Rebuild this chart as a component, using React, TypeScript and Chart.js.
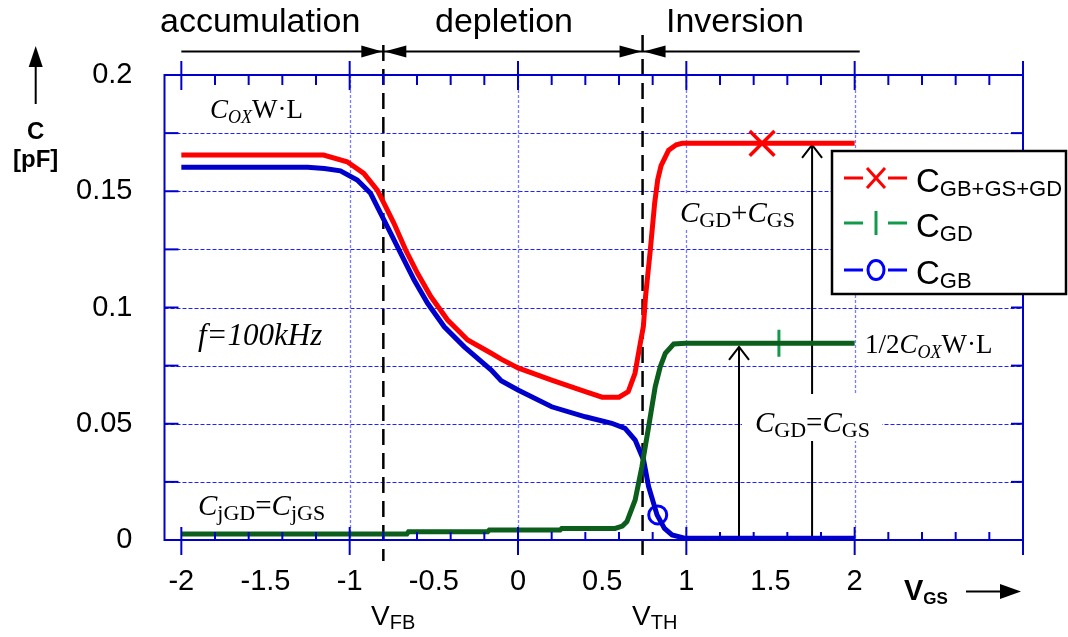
import React, { useEffect, useRef } from 'react';
import { Chart, registerables } from 'chart.js';

Chart.register(...registerables);

// ---------- axes ----------
const X_MIN = -2.1;
const X_MAX = 3.0;
const Y_MIN = 0;
const Y_MAX = 0.2;
const xTickValues = [-2, -1.5, -1, -0.5, 0, 0.5, 1, 1.5, 2];
const xMajorTicks = [-2, -1, 0, 1, 2, 3];
const xMinorTicks = [-1.8, -1.6, -1.4, -1.2, -0.8, -0.6, -0.4, -0.2, 0.2, 0.4, 0.6, 0.8, 1.2, 1.4, 1.6, 1.8, 2.2, 2.4, 2.6, 2.8];
const xGridValues = [-1, 0, 1, 2];
const yGridValues = [0.025, 0.05, 0.075, 0.1, 0.125, 0.15, 0.175];
const yTickValues = [0, 0.025, 0.05, 0.075, 0.1, 0.125, 0.15, 0.175, 0.2];
const yLabelStep = 0.05;

// ---------- series: C_GB+GS+GD ----------
const totalV = [-2, -1.155, -1.015, -0.916, -0.836, -0.796, -0.737, -0.667, -0.597, -0.518, -0.418, -0.299, -0.159, -0.1, 0, 0.2, 0.4, 0.5, 0.6, 0.655, 0.695, 0.72, 0.745, 0.758, 0.786, 0.812, 0.83, 0.85, 0.895, 0.94, 0.975, 2.0];
const totalC = [0.1656, 0.1656, 0.1627, 0.1577, 0.1505, 0.1448, 0.1362, 0.1247, 0.1147, 0.1047, 0.0946, 0.086, 0.0803, 0.0778, 0.074, 0.0688, 0.0638, 0.0614, 0.0614, 0.0638, 0.0717, 0.082, 0.092, 0.105, 0.1247, 0.145, 0.155, 0.161, 0.1677, 0.17, 0.1706, 0.1706];

// ---------- series: C_GD ----------
const gdV = [-2, -0.66, -0.65, -0.18, -0.17, 0.25, 0.26, 0.577, 0.62, 0.647, 0.696, 0.736, 0.776, 0.815, 0.845, 0.875, 0.925, 0.995, 2.0];
const gdC = [0.0026, 0.0026, 0.0036, 0.0036, 0.0043, 0.0043, 0.005, 0.005, 0.006, 0.0079, 0.0172, 0.0315, 0.0487, 0.0659, 0.0745, 0.0803, 0.0843, 0.0846, 0.0846];

// ---------- series: C_GB ----------
const gbV = [-2, -1.25, -1.15, -1.055, -0.955, -0.876, -0.816, -0.756, -0.687, -0.617, -0.537, -0.438, -0.319, -0.159, -0.1, 0, 0.2, 0.4, 0.557, 0.636, 0.696, 0.746, 0.776, 0.826, 0.87, 0.915, 0.995, 2.0];
const gbC = [0.1603, 0.1603, 0.1598, 0.1588, 0.1548, 0.1491, 0.1405, 0.1319, 0.1219, 0.1118, 0.1018, 0.0917, 0.0831, 0.0731, 0.0685, 0.0645, 0.0573, 0.053, 0.0502, 0.048, 0.043, 0.0344, 0.0229, 0.0108, 0.005, 0.0022, 0.0007, 0.0007];

// ---------- markers ----------
const totalMarkerV = [1.45];
const totalMarkerC = [0.1706];
const gdMarkerV = [1.55];
const gdMarkerC = [0.0846];
const gbMarkerV = [0.83];
const gbMarkerC = [0.0108];

// ---------- reference voltages / arrows ----------
const V_FB = -0.8;
const V_TH = 0.74;
const regionBounds = [-2, V_FB, V_TH, 2.03];
const arrowV = [1.313, 1.747];
const arrowTopC = [0.0831, 0.1699];

const RED = '#ff0000';
const GREEN = '#0b5e1c';
const GREEN_LIGHT = '#129a4a';
const BLUE = '#0000cc';
const BLUE_LIGHT = '#0000ff';
const AXIS = '#0000cc';

const sans = '"Liberation Sans", Arial, sans-serif';
const serif = '"Liberation Serif", "Times New Roman", serif';

const pts = (xs: number[], ys: number[]) => xs.map((x, i) => ({ x, y: ys[i] }));

type Part = [string, string, number];
function drawRich(ctx: CanvasRenderingContext2D, x: number, y: number, parts: Part[]) {
  let cx = x;
  for (const [t, f, dy] of parts) {
    ctx.font = f;
    ctx.fillText(t, cx, y + dy);
    cx += ctx.measureText(t).width;
  }
  return cx - x;
}

function line(ctx: CanvasRenderingContext2D, x1: number, y1: number, x2: number, y2: number) {
  ctx.beginPath();
  ctx.moveTo(x1, y1);
  ctx.lineTo(x2, y2);
  ctx.stroke();
}

function tri(ctx: CanvasRenderingContext2D, tipX: number, tipY: number, baseX: number, baseY: number, half: number) {
  const dx = tipX - baseX, dy = tipY - baseY;
  const len = Math.hypot(dx, dy);
  const nx = -dy / len, ny = dx / len;
  ctx.beginPath();
  ctx.moveTo(tipX, tipY);
  ctx.lineTo(baseX + nx * half, baseY + ny * half);
  ctx.lineTo(baseX - nx * half, baseY - ny * half);
  ctx.closePath();
  ctx.fill();
}

const it = (s: number) => `italic ${s}px ${serif}`;
const rg = (s: number) => `${s}px ${serif}`;

const decor = {
  id: 'decor',
  beforeDatasetsDraw(chart: any) {
    const { ctx, chartArea: a, scales } = chart;
    const X = (v: number) => scales.x.getPixelForValue(v);
    const Y = (v: number) => scales.y.getPixelForValue(v);
    ctx.save();
    // horizontal dashed grid
    ctx.strokeStyle = '#2222ff';
    ctx.lineWidth = 1;
    ctx.setLineDash([4, 2]);
    yGridValues.forEach((v) => {
      const p = Math.round(Y(v)) + 0.5;
      line(ctx, a.left, p, a.right, p);
    });
    // vertical dotted grid
    ctx.strokeStyle = '#7b7bff';
    ctx.lineWidth = 1.3;
    ctx.setLineDash([3, 2]);
    xGridValues.forEach((v) => {
      const p = Math.round(X(v)) + 0.5;
      line(ctx, p, a.top, p, a.bottom);
    });
    ctx.setLineDash([]);

    // annotation arrows
    ctx.strokeStyle = '#000';
    ctx.lineWidth = 2;
    arrowV.forEach((v, i) => {
      const px = X(v);
      const tip = Y(arrowTopC[i]);
      line(ctx, px, a.bottom, px, tip + 1);
      ctx.beginPath();
      ctx.moveTo(px - 10, tip + 13);
      ctx.lineTo(px, tip);
      ctx.lineTo(px + 10, tip + 13);
      ctx.stroke();
    });

    // VFB / VTH dashed lines
    ctx.lineWidth = 2.5;
    ctx.setLineDash([16, 8]);
    line(ctx, X(V_FB), 45, X(V_FB), 561);
    line(ctx, X(V_TH), 35, X(V_TH), 561);
    ctx.setLineDash([]);

    // serif annotations
    ctx.fillStyle = '#000';
    ctx.textBaseline = 'alphabetic';
    ctx.textAlign = 'left';
    const labels: { x: number; y: number; parts: Part[]; box?: number[] }[] = [
      { x: 210, y: 118, parts: [['C', it(27), 0], ['OX', it(18), 5], ['W·L', rg(27), 0]] },
      { x: 198, y: 345, parts: [['f=100kHz', it(31), 0]] },
      { x: 198, y: 515, parts: [['C', it(29), 0], ['jGD', rg(22), 5], ['=', rg(29), 0], ['C', it(29), 0], ['jGS', rg(22), 5]] },
      { x: 680, y: 222, parts: [['C', it(29), 0], ['GD', rg(22), 5], ['+', rg(29), 0], ['C', it(29), 0], ['GS', rg(22), 5]], box: [674, 195, 128, 34] },
      { x: 865, y: 353, parts: [['1/2', rg(27), 0], ['C', it(27), 0], ['OX', it(18), 5], ['W·L', rg(27), 0]] },
      { x: 755, y: 432, parts: [['C', it(29), 0], ['GD', rg(22), 5], ['=', rg(29), 0], ['C', it(29), 0], ['GS', rg(22), 5]], box: [742, 394, 140, 47] },
    ];
    labels.forEach((l) => {
      if (l.box) {
        ctx.fillStyle = '#fff';
        ctx.fillRect(l.box[0], l.box[1], l.box[2], l.box[3]);
        ctx.fillStyle = '#000';
      }
      drawRich(ctx, l.x, l.y, l.parts);
    });
    ctx.restore();
  },
  afterDatasetsDraw(chart: any) {
    const { ctx, chartArea: a, scales } = chart;
    const X = (v: number) => scales.x.getPixelForValue(v);
    const Y = (v: number) => scales.y.getPixelForValue(v);
    ctx.save();
    ctx.strokeStyle = AXIS;
    ctx.lineWidth = 2;
    ctx.setLineDash([]);
    ctx.strokeRect(a.left, a.top, a.right - a.left, a.bottom - a.top);
    // y ticks
    yTickValues.forEach((v) => {
      const p = Y(v);
      line(ctx, a.left, p, a.left + 14, p);
      line(ctx, a.right, p, a.right - 12, p);
    });
    // x ticks
    xMajorTicks.forEach((v) => {
      const p = X(v);
      line(ctx, p, a.top - 14, p, a.top + 15);
      line(ctx, p, a.bottom - 13, p, a.bottom + 15);
    });
    xMinorTicks.forEach((v) => {
      const p = X(v);
      line(ctx, p, a.top, p, a.top + 10);
      line(ctx, p, a.bottom - 8, p, a.bottom);
    });

    // region arrows
    ctx.strokeStyle = '#000';
    ctx.fillStyle = '#000';
    ctx.lineWidth = 2;
    const ay = 51.5;
    line(ctx, X(regionBounds[0]), ay, X(regionBounds[3]), ay);
    const b1 = X(regionBounds[1]);
    const b2 = X(regionBounds[2]);
    tri(ctx, b1 - 1, ay, b1 - 22, ay, 6);
    tri(ctx, b1 + 1, ay, b1 + 23, ay, 6);
    tri(ctx, b2 - 1, ay, b2 - 23, ay, 6);
    tri(ctx, b2 + 1, ay, b2 + 23, ay, 6);

    // region labels
    ctx.textAlign = 'left';
    ctx.textBaseline = 'alphabetic';
    ctx.font = `34px ${sans}`;
    ctx.fillText('accumulation', 160, 32);
    ctx.fillText('depletion', 435, 32);
    ctx.fillText('Inversion', 666, 32);

    // y axis title
    ctx.lineWidth = 2;
    line(ctx, 35.7, 104, 35.7, 62);
    tri(ctx, 35.7, 46, 35.7, 67, 7);
    ctx.textAlign = 'center';
    ctx.font = `bold 24px ${sans}`;
    ctx.fillText('C', 35.7, 138.5);
    ctx.fillText('[pF]', 35.7, 167);

    // x axis title
    ctx.textAlign = 'left';
    drawRich(ctx, 904, 600, [['V', `bold 29px ${sans}`, 0], ['GS', `bold 17px ${sans}`, 4]]);
    line(ctx, 966, 591.5, 1003, 591.5);
    tri(ctx, 1021, 591.5, 1000, 591.5, 7.5);

    // VFB / VTH labels
    drawRich(ctx, 371, 625, [['V', `28px ${sans}`, 0], ['FB', `20px ${sans}`, 4]]);
    drawRich(ctx, 632, 625, [['V', `28px ${sans}`, 0], ['TH', `20px ${sans}`, 4]]);
    ctx.restore();
  },
  afterDraw(chart: any) {
    const { ctx } = chart;
    ctx.save();
    // legend box
    ctx.fillStyle = '#fff';
    ctx.fillRect(832, 151, 234, 143);
    ctx.strokeStyle = '#000';
    ctx.lineWidth = 2.5;
    ctx.strokeRect(832, 151, 234, 143);
    const rows = [
      { y: 178, color: RED, sub: 'GB+GS+GD', mark: 'x' },
      { y: 223, color: GREEN_LIGHT, sub: 'GD', mark: '|' },
      { y: 270, color: BLUE_LIGHT, sub: 'GB', mark: 'o' },
    ];
    rows.forEach((r) => {
      ctx.strokeStyle = r.color;
      ctx.lineWidth = 3;
      line(ctx, 844, r.y, 863, r.y);
      line(ctx, 888, r.y, 907, r.y);
      const cx = 876;
      if (r.mark === 'x') {
        line(ctx, cx - 9, r.y - 10, cx + 9, r.y + 10);
        line(ctx, cx + 9, r.y - 10, cx - 9, r.y + 10);
      } else if (r.mark === '|') {
        line(ctx, cx, r.y - 12, cx, r.y + 12);
      } else {
        ctx.beginPath();
        ctx.ellipse(cx, r.y, 8, 9.5, 0, 0, Math.PI * 2);
        ctx.stroke();
      }
      ctx.fillStyle = '#000';
      ctx.textAlign = 'left';
      ctx.textBaseline = 'alphabetic';
      drawRich(ctx, 916, r.y + 14, [['C', `33px ${sans}`, 0], [r.sub, `22px ${sans}`, 4]]);
    });
    ctx.restore();
  },
};

export default function App() {
  const ref = useRef<HTMLCanvasElement | null>(null);
  useEffect(() => {
    if (!ref.current) return;
    const chart = new Chart(ref.current, {
      type: 'line',
      data: {
        datasets: [
          { label: 'C_GB+GS+GD', data: pts(totalV, totalC), borderColor: RED, borderWidth: 5, pointRadius: 0, tension: 0 },
          { label: 'C_GD', data: pts(gdV, gdC), borderColor: GREEN, borderWidth: 5, pointRadius: 0, tension: 0 },
          { label: 'C_GB', data: pts(gbV, gbC), borderColor: BLUE, borderWidth: 5, pointRadius: 0, tension: 0 },
          { label: 'mTotal', data: pts(totalMarkerV, totalMarkerC), showLine: false, pointStyle: 'crossRot', pointRadius: 17.5, pointBorderWidth: 3.5, pointBorderColor: RED, borderColor: RED },
          { label: 'mGD', data: pts(gdMarkerV, gdMarkerC), showLine: false, pointStyle: 'line', rotation: 90, pointRotation: 90, pointRadius: 13.5, pointBorderWidth: 3, pointBorderColor: GREEN_LIGHT, borderColor: GREEN_LIGHT },
          { label: 'mGB', data: pts(gbMarkerV, gbMarkerC), showLine: false, pointStyle: 'circle', pointRadius: 9, pointBorderWidth: 3, pointBorderColor: BLUE_LIGHT, pointBackgroundColor: '#fff', borderColor: BLUE_LIGHT },
        ] as any,
      },
      options: {
        animation: false,
        responsive: false,
        devicePixelRatio: 1,
        layout: { padding: { top: 75, right: 45, left: 0, bottom: 0 } },
        plugins: { legend: { display: false }, tooltip: { enabled: false } },
        scales: {
          x: {
            type: 'linear',
            min: X_MIN,
            max: X_MAX,
            grid: { display: false, drawTicks: false },
            border: { display: false },
            afterBuildTicks: (s: any) => { s.ticks = xTickValues.map((v) => ({ value: v })); },
            afterFit: (s: any) => { s.height = 97; },
            ticks: {
              autoSkip: false,
              maxRotation: 0,
              padding: 25,
              color: '#000',
              font: { family: sans, size: 29 },
              callback: (v: any) => String(v),
            },
          },
          y: {
            type: 'linear',
            min: Y_MIN,
            max: Y_MAX,
            grid: { display: false, drawTicks: false },
            border: { display: false },
            afterFit: (s: any) => { s.width = 164.5; },
            ticks: {
              stepSize: yLabelStep,
              padding: 32,
              color: '#000',
              font: { family: sans, size: 29 },
              callback: (v: any) => String(Number(Number(v).toFixed(3))),
            },
          },
        },
      } as any,
      plugins: [decor],
    });
    return () => chart.destroy();
  }, []);
  return (
    <div style={{ position: 'absolute', left: 0, top: 0, width: 1068, height: 637, background: '#fff' }}>
      <canvas ref={ref} width={1068} height={637} style={{ display: 'block' }} />
    </div>
  );
}
